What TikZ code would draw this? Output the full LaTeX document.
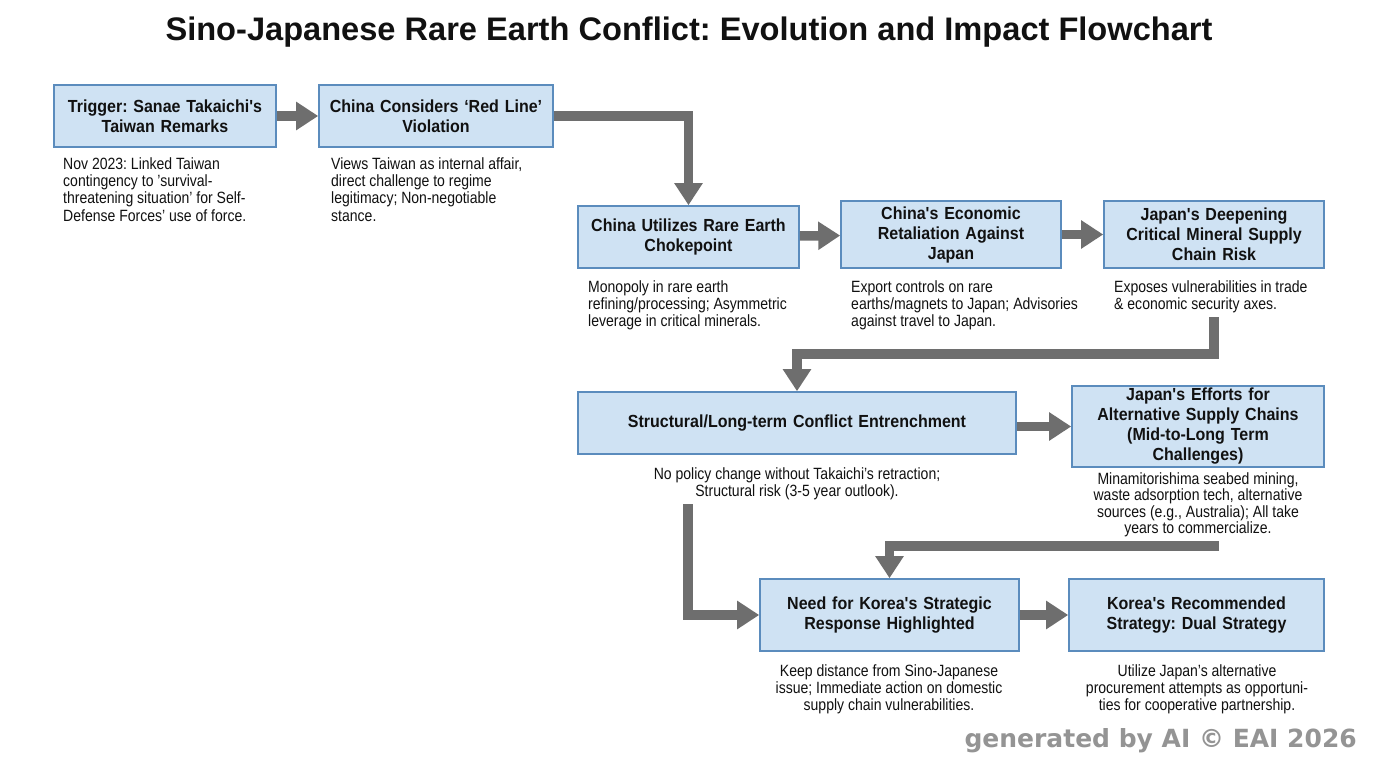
\documentclass[tikz,border=0pt]{standalone}
\usepackage{fontspec}
\setmainfont{Liberation Sans}[FakeStretch=0.86]
\newfontfamily\boxfont{Liberation Sans}[FakeStretch=0.915]
\newfontfamily\titlefont{Liberation Sans}
\newfontfamily\wmfont{DejaVu Sans}
\usetikzlibrary{arrows.meta}
\definecolor{boxfill}{HTML}{CFE2F3}
\definecolor{boxline}{HTML}{5B8CBD}
\definecolor{arrgray}{HTML}{6E6E6E}
\definecolor{txt}{HTML}{111111}
\frenchspacing
\begin{document}
\begin{tikzpicture}[x=1pt,y=-1pt,
  box/.style={draw=boxline, line width=1.6pt, fill=boxfill, inner sep=0pt, align=center,
    font=\boxfont\fontsize{17.5}{20}\selectfont\bfseries, text=txt},
  desc/.style={inner sep=0pt, font=\fontsize{16.3}{17.2}\selectfont, text=txt},
  arr/.style={draw=arrgray, line width=9.5pt, -{Triangle[length=22pt,width=27pt]}}]
\useasboundingbox (0,0) rectangle (1376,768);
\fill[white] (0,0) rectangle (1376,768);

\node[font=\titlefont\fontsize{32.6}{36}\selectfont\bfseries, text=txt, inner sep=0pt] (title) at (689,32)
  {Sino-Japanese Rare Earth Conflict: Evolution and Impact Flowchart};

% row 1
\node[box, minimum width=222, minimum height=62, text width=215] (b1) at (165,116)
  {Trigger: Sanae Takaichi's\\Taiwan Remarks};
\node[box, minimum width=234, minimum height=62, text width=228] (b2) at (436,116)
  {China Considers ‘Red Line’\\Violation};
\node[desc, anchor=north west, align=left] (d1) at (63,157.5)
  {Nov 2023: Linked Taiwan\\contingency to 'survival-\\threatening situation' for Self-\\Defense Forces' use of force.};
\node[desc, anchor=north west, align=left] (d2) at (331,157.5)
  {Views Taiwan as internal affair,\\direct challenge to regime\\legitimacy; Non-negotiable\\stance.};

% row 2
\node[box, minimum width=221, minimum height=62, text width=215] (b3) at (688.5,237)
  {China Utilizes Rare Earth\\Chokepoint};
\node[box, minimum width=220, minimum height=67, text width=214] (b4) at (951,234.5)
  {China's Economic\\Retaliation Against\\Japan};
\node[box, minimum width=220, minimum height=67, text width=214] (b5) at (1214,234.5)
  {Japan's Deepening\\Critical Mineral Supply\\Chain Risk};
\node[desc, anchor=north west, align=left] (d3) at (588,280.5)
  {Monopoly in rare earth\\refining/processing; Asymmetric\\leverage in critical minerals.};
\node[desc, anchor=north west, align=left] (d4) at (851,280.5)
  {Export controls on rare\\earths/magnets to Japan; Advisories\\against travel to Japan.};
\node[desc, anchor=north west, align=left] (d5) at (1114,280.5)
  {Exposes vulnerabilities in trade\\\& economic security axes.};

% row 3
\node[box, minimum width=438, minimum height=62, text width=430] (b6) at (797,423)
  {Structural/Long-term Conflict Entrenchment};
\node[box, minimum width=252, minimum height=81, text width=246] (b7) at (1198,426.5)
  {Japan's Efforts for\\Alternative Supply Chains\\(Mid-to-Long Term\\Challenges)};
\node[desc, anchor=north, align=center] (d6) at (797,467.5)
  {No policy change without Takaichi's retraction;\\Structural risk (3-5 year outlook).};
\node[desc, anchor=north, align=center, font=\fontsize{16.3}{16.6}\selectfont] (d7) at (1198,472)
  {Minamitorishima seabed mining,\\waste adsorption tech, alternative\\sources (e.g., Australia); All take\\years to commercialize.};

% row 4
\node[box, minimum width=259, minimum height=72, text width=252] (b8) at (889.5,615)
  {Need for Korea's Strategic\\Response Highlighted};
\node[box, minimum width=255, minimum height=72, text width=249] (b9) at (1196.5,615)
  {Korea's Recommended\\Strategy: Dual Strategy};
\node[desc, anchor=north, align=center] (d8) at (889,664.5)
  {Keep distance from Sino-Japanese\\issue; Immediate action on domestic\\supply chain vulnerabilities.};
\node[desc, anchor=north, align=center] (d9) at (1197,664.5)
  {Utilize Japan's alternative\\procurement attempts as opportuni-\\ties for cooperative partnership.};

% watermark
\node[font=\wmfont\bfseries\fontsize{25}{28}\selectfont, text=black!42, anchor=east, inner sep=0pt] (wm) at (1357,741)
  {generated by AI © EAI 2026};

% connectors
\coordinate (c5) at (1214,317);
\coordinate (c6) at (688,504);
\coordinate (c7) at (1219,546);
\draw[arr] (b1) -- (b2);
\draw[arr] (b2.east) -| (b3.north);
\draw[arr] (b3) -- (b4);
\draw[arr] (b4) -- (b5);
\draw[arr] (c5) -- ++(0,37) -| (b6.north);
\draw[arr] (b6.east |- b7.west) -- (b7.west);
\draw[arr] (c7) -| (b8.north);
\draw[arr] (c6) |- (b8.west);
\draw[arr] (b8) -- (b9);
\end{tikzpicture}
\end{document}
